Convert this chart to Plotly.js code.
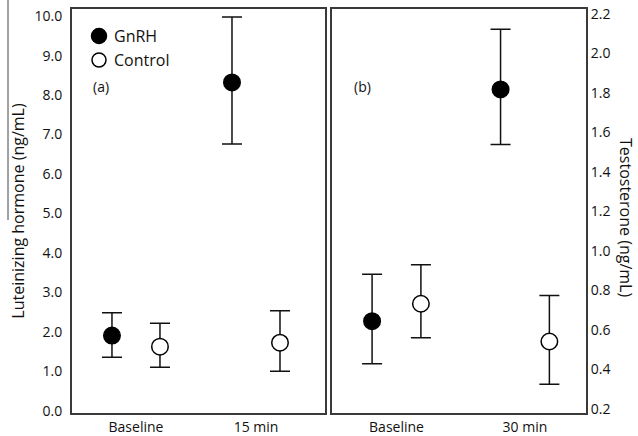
<!DOCTYPE html>
<html>
<head>
<meta charset="utf-8">
<script src="https://cdn.plot.ly/plotly-3.0.1.min.js"></script>
<style>html,body{margin:0;padding:0;background:#fff;}#chart{width:638px;height:436px;}</style>
</head>
<body>
<div id="chart"></div>
<script>
// ---- data ----
var categoriesLH = ["Baseline", "15 min"];
var categoriesT = ["Baseline", "30 min"];
var yTicksLH = [0, 1, 2, 3, 4, 5, 6, 7, 8, 9, 10];
var yTicksT = [0.2, 0.4, 0.6, 0.8, 1.0, 1.2, 1.4, 1.6, 1.8, 2.0, 2.2];
var seriesNames = ["GnRH", "Control"];

var lhGnRH = [1.91, 8.32];
var lhGnRHPlus = [0.58, 1.66];
var lhGnRHMinus = [0.55, 1.56];
var lhControl = [1.63, 1.73];
var lhControlPlus = [0.59, 0.81];
var lhControlMinus = [0.52, 0.72];

var tGnRH = [0.645, 1.818];
var tGnRHPlus = [0.237, 0.304];
var tGnRHMinus = [0.216, 0.279];
var tControl = [0.733, 0.542];
var tControlPlus = [0.198, 0.233];
var tControlMinus = [0.172, 0.216];

// ---- helpers ----
var FONT = "Open Sans, Liberation Sans, sans-serif";
var TXT = "#111";
function pos(cats, dodge) { return cats.map(function (c, i) { return i + 1 + dodge; }); }

function trace(cats, vals, plus, minus, dodge, filled, xa, ya, name) {
  return {
    type: "scatter", mode: "markers", name: name, showlegend: false,
    x: pos(cats, dodge), y: vals, xaxis: xa, yaxis: ya,
    marker: { size: 16.5, color: filled ? "#000" : "#fff", line: { color: "#000", width: 1.5 } },
    error_y: { type: "data", symmetric: false, array: plus, arrayminus: minus,
      color: "#111", thickness: 1.5, width: 10 },
    hoverinfo: "skip"
  };
}

var data = [
  trace(categoriesLH, lhGnRH, lhGnRHPlus, lhGnRHMinus, -0.2, true, "x", "y", seriesNames[0]),
  trace(categoriesLH, lhControl, lhControlPlus, lhControlMinus, 0.2, false, "x", "y", seriesNames[1]),
  trace(categoriesT, tGnRH, tGnRHPlus, tGnRHMinus, -0.19, true, "x2", "y2", seriesNames[0]),
  trace(categoriesT, tControl, tControlPlus, tControlMinus, 0.19, false, "x2", "y2", seriesNames[1])
];

var W = 638, H = 436, ML = 72, MR = 52, MT = 9, MB = 23;
var PW = W - ML - MR, PH = H - MT - MB;
function px(x) { return (x - ML) / PW; }
function py(y) { return (H - MB - y) / PH; }

var lineStyle = { showline: true, mirror: true, linecolor: "#3a3a3a", linewidth: 2,
  ticks: "", showgrid: false, zeroline: false, fixedrange: true };

var layout = {
  width: W, height: H,
  margin: { l: ML, r: MR, t: MT, b: MB, pad: 0 },
  paper_bgcolor: "#fff", plot_bgcolor: "#fff",
  font: { family: FONT, color: TXT, size: 14 },
  showlegend: false,
  xaxis: Object.assign({}, lineStyle, {
    domain: [0, 253 / PW], anchor: "y", range: [0.467, 2.575],
    tickmode: "array", tickvals: categoriesLH.map(function (c, i) { return i + 1; }), ticktext: categoriesLH,
    tickfont: { size: 14, family: FONT, color: TXT }, ticklabelstandoff: 0
  }),
  yaxis: Object.assign({}, lineStyle, {
    domain: [0, 1], anchor: "x", range: [-0.05, 10.18],
    tickmode: "array", tickvals: yTicksLH, ticktext: yTicksLH.map(function (v) { return v.toFixed(1); }),
    tickfont: { size: 14, family: FONT, color: TXT }, ticklabelstandoff: 5,
    title: { text: "Luteinizing hormone (ng/mL)", font: { size: 16, family: FONT, color: TXT }, standoff: 6 }
  }),
  xaxis2: Object.assign({}, lineStyle, {
    domain: [260 / PW, 1], anchor: "y2", range: [0.498, 2.475],
    tickmode: "array", tickvals: categoriesT.map(function (c, i) { return i + 1; }), ticktext: categoriesT,
    tickfont: { size: 14, family: FONT, color: TXT }, ticklabelstandoff: 0
  }),
  yaxis2: Object.assign({}, lineStyle, {
    domain: [0, 1], anchor: "x2", side: "right", range: [0.18, 2.225],
    tickmode: "array", tickvals: yTicksT, ticktext: yTicksT.map(function (v) { return v.toFixed(1); }),
    tickfont: { size: 14, family: FONT, color: TXT }, ticklabelstandoff: 0
  }),
  shapes: [
    { type: "circle", xref: "paper", yref: "paper", layer: "above",
      x0: px(91.5), x1: px(106.5), y0: py(43.5), y1: py(28.5),
      fillcolor: "#000", line: { color: "#000", width: 1.5 } },
    { type: "circle", xref: "paper", yref: "paper", layer: "above",
      x0: px(92), x1: px(106), y0: py(67), y1: py(53),
      fillcolor: "#fff", line: { color: "#000", width: 1.5 } },
    { type: "line", xref: "paper", yref: "paper", x0: px(8), x1: px(8), y0: py(0), y1: py(220),
      line: { color: "#444", width: 1 } }
  ],
  annotations: [
    { xref: "paper", yref: "paper", x: px(112), y: py(36), xanchor: "left", yanchor: "middle",
      text: seriesNames[0], showarrow: false, font: { size: 16, family: FONT, color: TXT } },
    { xref: "paper", yref: "paper", x: px(112), y: py(60), xanchor: "left", yanchor: "middle",
      text: seriesNames[1], showarrow: false, font: { size: 16, family: FONT, color: TXT } },
    { xref: "paper", yref: "paper", x: px(91), y: py(87), xanchor: "left", yanchor: "middle",
      text: "(a)", showarrow: false, font: { size: 14, family: FONT, color: TXT } },
    { xref: "paper", yref: "paper", x: px(352), y: py(87), xanchor: "left", yanchor: "middle",
      text: "(b)", showarrow: false, font: { size: 14, family: FONT, color: TXT } },
    { xref: "paper", yref: "paper", x: px(626), y: py(217), xanchor: "center", yanchor: "middle",
      text: "Testosterone (ng/mL)", textangle: 90, showarrow: false,
      font: { size: 16, family: FONT, color: TXT } }
  ]
};

Plotly.newPlot("chart", data, layout, { staticPlot: true, displayModeBar: false });
</script>
</body>
</html>
